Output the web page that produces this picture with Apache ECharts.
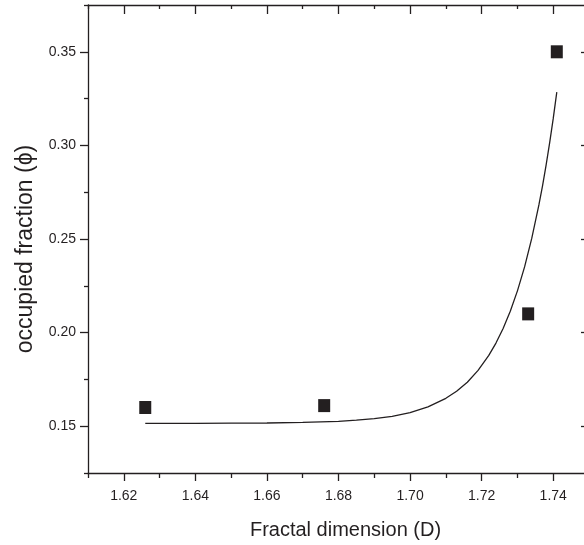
<!DOCTYPE html>
<html>
<head>
<meta charset="utf-8">
<style>
  html, body { margin: 0; padding: 0; background: #fff; }
  #chart { width: 584px; height: 545px; }
</style>
<script src="https://cdn.jsdelivr.net/npm/echarts@6/dist/echarts.min.js"></script>
</head>
<body>
<div id="chart"></div>
<script>
// Measured points: fractal dimension D vs occupied fraction phi
const dimension = [1.626, 1.676, 1.733, 1.741];
const fraction = [0.160, 0.161, 0.210, 0.350];

// Exponential fit curve, sampled along D (denser where it turns upward)
const fitD = [1.626, 1.640, 1.650, 1.660, 1.670, 1.680, 1.685, 1.690, 1.695, 1.700,
              1.705, 1.710, 1.713, 1.716, 1.719, 1.722, 1.724, 1.726, 1.728, 1.730,
              1.732, 1.734, 1.736, 1.737, 1.738, 1.739, 1.740, 1.741];
const fitPhi = [0.1515, 0.1515, 0.1516, 0.1517, 0.1520, 0.1526, 0.1532, 0.1540, 0.1553, 0.1573,
                0.1603, 0.1649, 0.1687, 0.1735, 0.1798, 0.1878, 0.1944, 0.2022, 0.2114, 0.2223,
                0.2351, 0.2503, 0.2682, 0.2783, 0.2893, 0.3013, 0.3143, 0.3285];

// Tick positions
const xMajorTicks = [1.62, 1.64, 1.66, 1.68, 1.70, 1.72, 1.74];
const xMinorTicks = [1.61, 1.63, 1.65, 1.67, 1.69, 1.71, 1.73, 1.75];
const yMajorTicks = [0.15, 0.20, 0.25, 0.30, 0.35];
const yMinorTicks = [0.125, 0.175, 0.225, 0.275, 0.325, 0.375];

const INK = '#231f20';
const FONT = "'Liberation Sans', Arial, sans-serif";

function tickAxis(kind, min, max, position, values, length, inside, showLine, labels) {
  const a = {
    type: 'value', min: min, max: max, position: position,
    axisLine: { show: showLine, onZero: false, lineStyle: { color: INK, width: 1.3 } },
    splitLine: { show: false },
    axisLabel: { show: false },
    axisTick: { show: true, inside: inside, length: length, customValues: values,
                lineStyle: { color: INK, width: 1.3 } }
  };
  if (labels) {
    a.axisLabel = {
      show: true, customValues: values, color: INK, fontFamily: FONT, fontSize: 14,
      margin: kind === 'x' ? 16 : 12,
      formatter: v => Number(v).toFixed(2)
    };
  }
  return a;
}

const xBottom = tickAxis('x', 1.61, 1.75, 'bottom', xMajorTicks, 8, false, true, true);
xBottom.name = 'Fractal dimension (D)';
xBottom.nameLocation = 'middle';
xBottom.nameGap = 47;
xBottom.nameTextStyle = { color: INK, fontFamily: FONT, fontSize: 20, padding: [0, 0, 0, 14] };

const yLeft = tickAxis('y', 0.125, 0.375, 'left', yMajorTicks, 8, false, true, true);
yLeft.name = 'occupied fraction (\u03d5)';
yLeft.nameLocation = 'middle';
yLeft.nameGap = 51;
yLeft.nameTextStyle = { color: INK, fontFamily: FONT, fontSize: 23, padding: [0, 20, 0, 0] };

const option = {
  animation: false,
  backgroundColor: '#ffffff',
  grid: { left: 88, top: 5, right: -5, bottom: 72, containLabel: false, outerBoundsMode: 'none' },
  xAxis: [
    xBottom,
    tickAxis('x', 1.61, 1.75, 'bottom', xMinorTicks, 5, false, false, false),
    tickAxis('x', 1.61, 1.75, 'top', xMajorTicks, 9, true, true, false),
    tickAxis('x', 1.61, 1.75, 'top', xMinorTicks, 4, true, false, false)
  ],
  yAxis: [
    yLeft,
    tickAxis('y', 0.125, 0.375, 'left', yMinorTicks, 4, false, false, false),
    tickAxis('y', 0.125, 0.375, 'right', yMajorTicks, 8, true, true, false),
    tickAxis('y', 0.125, 0.375, 'right', yMinorTicks, 4, true, false, false)
  ],
  series: [
    {
      type: 'line',
      xAxisIndex: 0, yAxisIndex: 0,
      data: fitD.map((d, i) => [d, fitPhi[i]]),
      showSymbol: false,
      smooth: false,
      lineStyle: { color: INK, width: 1.3 },
      silent: true
    },
    {
      type: 'scatter',
      xAxisIndex: 0, yAxisIndex: 0,
      data: dimension.map((d, i) => [d, fraction[i]]),
      symbol: 'rect',
      symbolSize: [12, 13],
      itemStyle: { color: INK, opacity: 1 }
    }
  ]
};

echarts.init(document.getElementById('chart'), null, { renderer: 'canvas' }).setOption(option);
</script>
</body>
</html>
